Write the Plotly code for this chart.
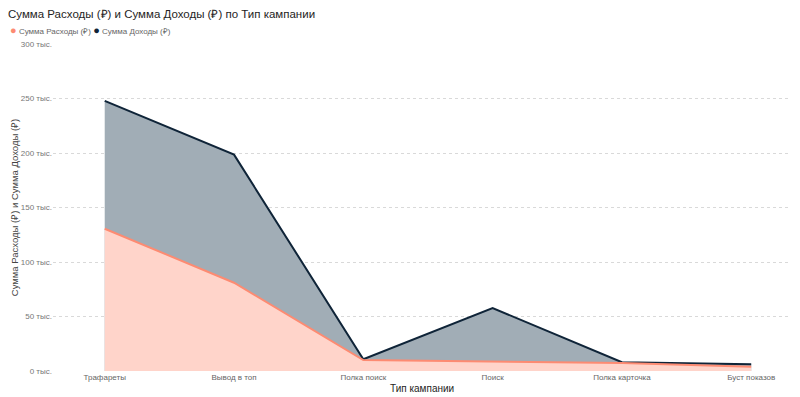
import plotly.graph_objects as go

categories = ["Трафареты", "Вывод в топ", "Полка поиск", "Поиск", "Полка карточка", "Буст показов"]
expenses = [130500, 81000, 10000, 8500, 7300, 4000]
income = [247800, 198500, 10800, 57800, 8000, 6100]
y_tick_vals = [0, 50000, 100000, 150000, 200000, 250000, 300000]
y_tick_text = ["0 тыс.", "50 тыс.", "100 тыс.", "150 тыс.", "200 тыс.", "250 тыс.", "300 тыс."]

name_exp = "Сумма Расходы (₽)"
name_inc = "Сумма Доходы (₽)"
c_exp = "#FD8B72"
c_inc = "#0F2438"
FONT = "Liberation Sans, Arial, sans-serif"

# page body has an 8px default margin; layout is compensated for it
L, T, R, B = 45, 36, 18, 34
PW, PH = 800 - L - R, 397 - T - B

fig = go.Figure()
fig.add_trace(go.Scatter(x=categories, y=income, mode="lines", name=name_inc,
                         line=dict(color=c_inc, width=2), fill="tozeroy",
                         fillcolor="#A1ADB6", showlegend=False))
fig.add_trace(go.Scatter(x=categories, y=expenses, mode="lines", name=name_exp,
                         line=dict(color=c_exp, width=2), fill="tozeroy",
                         fillcolor="#FFD4CA", showlegend=False))

legend_text = (f"<span style='color:{c_exp};font-size:11px'>●</span> {name_exp} "
               f"<span style='color:{c_inc};font-size:11px'>●</span> {name_inc}")

fig.update_layout(
    width=800, height=397,
    margin=dict(l=L, r=R, t=T, b=B, autoexpand=False),
    paper_bgcolor="white", plot_bgcolor="white",
    font=dict(family=FONT, color="#666666", size=9),
    title=dict(text="Сумма Расходы (₽) и Сумма Доходы (₽) по Тип кампании",
               x=0, xref="container", xanchor="left",
               yref="container", y=1 - 1.5 / 397, yanchor="top",
               font=dict(size=11.5, color="#252423", family=FONT)),
    showlegend=False,
    annotations=[
        dict(text=legend_text, xref="paper", yref="paper",
             x=-L / PW, xanchor="left",
             y=1 + (T - 22) / PH, yanchor="middle",
             showarrow=False, font=dict(size=8, color="#666666", family=FONT)),
        dict(text="Тип кампании", xref="paper", yref="paper",
             x=0.5, xanchor="center", y=0, yshift=-17, yanchor="middle",
             showarrow=False, font=dict(size=10, color="#252423", family=FONT)),
    ],
)
fig.update_xaxes(
    type="category", range=[-0.4, 5.3], showgrid=False, zeroline=False,
    showline=False, ticks="", tickfont=dict(size=8, color="#666666"),
    automargin=False,
)
fig.update_yaxes(
    range=[0, 300000], tickvals=y_tick_vals, ticktext=y_tick_text,
    showgrid=True, gridcolor="#D9D9D9", griddash="dot", gridwidth=1,
    zeroline=False, showline=False, ticks="",
    tickfont=dict(size=8, color="#777777"),
    title=dict(text="Сумма Расходы (₽) и Сумма Доходы (₽)",
               font=dict(size=9.5, color="#444444"), standoff=0),
    automargin=False,
)
fig.write_html("out.html")
